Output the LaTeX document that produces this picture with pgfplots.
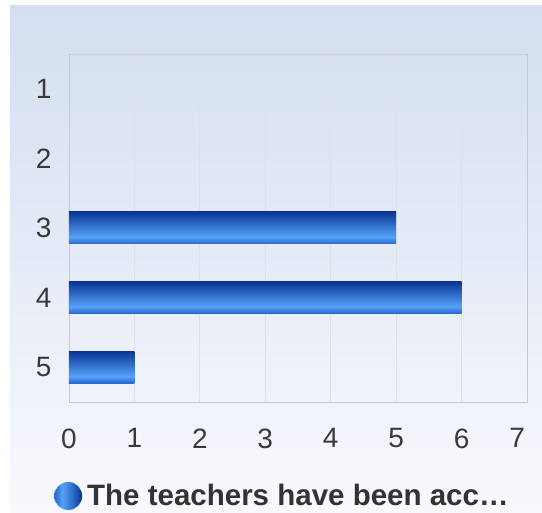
\documentclass[border=0pt]{standalone}
\usepackage{fontspec}
\setmainfont{Liberation Sans}
\usepackage{pgfplots}
\pgfplotsset{compat=1.18}

\definecolor{panelTop}{HTML}{D3DEF0}
\definecolor{panelBot}{HTML}{F8F9FD}
\definecolor{gridc}{HTML}{DCE1E8}
\definecolor{axisc}{HTML}{C6CACF}
\definecolor{labc}{HTML}{3A3A3A}
\definecolor{legc}{HTML}{333333}
\definecolor{barTop}{HTML}{0A3595}
\definecolor{barLight}{HTML}{55A2F8}
\definecolor{barBot}{HTML}{2866CF}

% vertical shading for the bars: 0bp = bottom, 100bp = top (box mapped to 25..75)
\pgfdeclareverticalshading{barshade}{100bp}{
  color(0bp)=(barBot); color(25bp)=(barBot); color(36bp)=(barLight);
  color(75bp)=(barTop); color(100bp)=(barTop)}
\pgfdeclarehorizontalshading{dotshade}{100bp}{
  color(0bp)=(barBot); color(25bp)=(barBot); color(40bp)=(barLight);
  color(75bp)=(barTop); color(100bp)=(barTop)}

\begin{document}
\begin{tikzpicture}
% page background and panel
\fill[white] (-69pt,-111pt) rectangle (473pt,402pt);
\shade[top color=panelTop, bottom color=panelBot] (-59pt,-111pt) rectangle (473pt,396pt);

\begin{axis}[
    scale only axis,
    width=458pt, height=348pt,
    xmin=0, xmax=7,
    ymin=0.5, ymax=5.5,
    y dir=reverse,
    xtick={0,...,7},
    xticklabels={0,1,2,3,4,5,6,{\makebox[16pt][r]{7\hspace*{10pt}}}},
    ytick={1,...,5},
    xmajorgrids,
    grid style={draw=gridc, line width=0.8pt},
    axis line style={draw=axisc, line width=0.8pt},
    major tick length=0pt,
    /pgf/number format/assume math mode=true,
    tick label style={font=\fontsize{28}{33}\selectfont, text=labc},
    xticklabel style={yshift=-23pt},
    yticklabel style={xshift=-14pt},
    legend style={at={(axis description cs:0,0)}, anchor=west,
        xshift=-15pt, yshift=-94pt, draw=none, fill=none, inner sep=0pt,
        font=\bfseries\fontsize{29.5}{34}\selectfont, text=legc,
        /tikz/every node/.append style={inner xsep=5pt}},
    legend image code/.code={\shade[shading=dotshade] (14pt,0pt) circle (14pt);},
    every axis plot/.append style={xbar, bar width=32pt, draw=none, mark=none, shading=barshade},
]
% one plot per answer so that each bar gets its own shading
\addplot[] coordinates {(0,1)};
\addlegendentry{The teachers have been acc…}
\addplot[] coordinates {(0,2)};
\addplot[] coordinates {(5,3)};
\addplot[] coordinates {(6,4)};
\addplot[] coordinates {(1,5)};
\end{axis}
\end{tikzpicture}
\end{document}
